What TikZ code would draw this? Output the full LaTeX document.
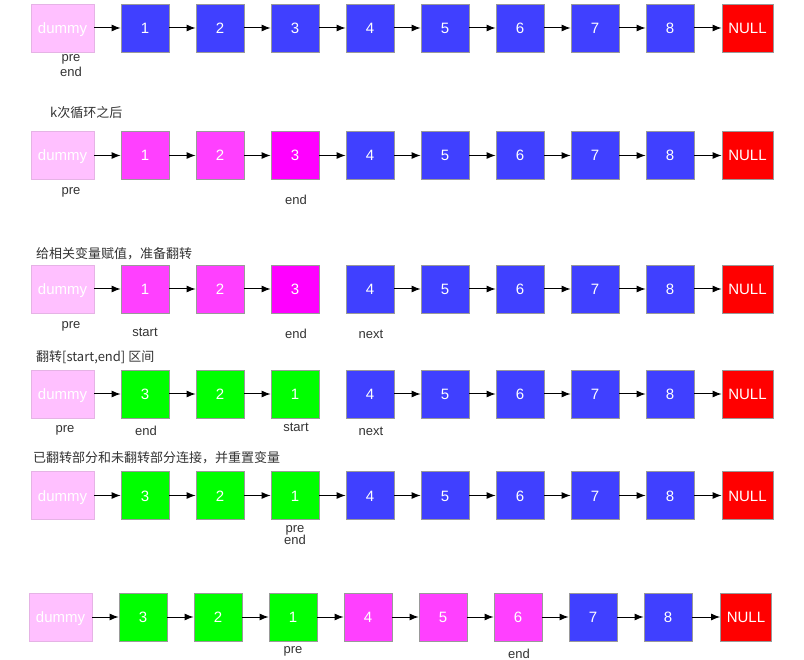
\documentclass[tikz,border=0pt]{standalone}
\usepackage{fontspec}
\setmainfont{Liberation Sans}
\newfontfamily\cjk{Noto Sans CJK SC}
\definecolor{listaAzul}{HTML}{4040FF}
\definecolor{listaRosa}{HTML}{FF40FF}
\definecolor{listaMagenta}{HTML}{FF00FF}
\definecolor{listaVerde}{HTML}{00FF00}
\definecolor{listaRojo}{HTML}{FF0000}
\definecolor{listaDummy}{HTML}{FFC0FF}
\definecolor{listaBorde}{HTML}{999999}
\definecolor{listaTexto}{HTML}{333333}
\usetikzlibrary{arrows.meta}
\tikzset{
	nodo/.style={
		draw=listaBorde,
		line width=0.8pt,
		minimum width=48pt,
		minimum height=48pt,
		inner sep=0pt,
		text height=11pt,
		text depth=0pt,
		text=white,
		font=\fontsize{15}{15}\selectfont
	},
	nodoAzul/.style={nodo, fill=listaAzul},
	nodoRosa/.style={nodo, fill=listaRosa},
	nodoMagenta/.style={nodo, fill=listaMagenta},
	nodoVerde/.style={nodo, fill=listaVerde},
	nodoNulo/.style={nodo, fill=listaRojo, minimum width=51pt},
	nodoDummy/.style={nodo, fill=listaDummy, minimum width=63pt, draw=listaDummy!80!gray},
	flecha/.style={
		-{Latex[length=9pt,width=7pt]},
		line width=1pt,
		black
	},
	etiqueta/.style={
		inner sep=0pt,
		text=listaTexto,
		font=\fontsize{13}{13}\selectfont
	},
	titulo/.style={
		anchor=west,
		inner sep=0pt,
		text=listaTexto,
		font=\cjk\fontsize{13}{13}\selectfont
	}
}

\begin{document}
\begin{tikzpicture}[x=1pt, y=-1pt]
	\useasboundingbox[fill=white] (0,0) rectangle (804,660);

	% fila 1: lista original
	\node[nodoDummy] (f1d) at (62.5,28) {dummy};
	\foreach \p in {1,...,8}{\node[nodoAzul] (f1p\p) at ({145+75*(\p-1)},28) {\p};}
	\node[nodoNulo] (f1n) at (747.5,28) {NULL};
	\draw[flecha] (f1d) -- (f1p1);
	\foreach \p in {1,...,7}{\pgfmathtruncatemacro\q{\p+1}\draw[flecha] (f1p\p) -- (f1p\q);}
	\draw[flecha] (f1p8) -- (f1n);
	\node[etiqueta] (f1pre) at (71,59) {pre};
	\node[etiqueta] (f1end) at (71,72) {end};

	% fila 2: k pasos
	\node[titulo] (t2) at (50,113) {k次循环之后};
	\node[nodoDummy] (f2d) at (62.5,155.5) {dummy};
	\foreach \p/\s in {1/nodoRosa,2/nodoRosa,3/nodoMagenta,4/nodoAzul,5/nodoAzul,6/nodoAzul,7/nodoAzul,8/nodoAzul}{
		\node[\s] (f2p\p) at ({145+75*(\p-1)},155.5) {\p};
	}
	\node[nodoNulo] (f2n) at (747.5,155.5) {NULL};
	\draw[flecha] (f2d) -- (f2p1);
	\foreach \p in {1,...,7}{\pgfmathtruncatemacro\q{\p+1}\draw[flecha] (f2p\p) -- (f2p\q);}
	\draw[flecha] (f2p8) -- (f2n);
	\node[etiqueta] (f2pre) at (71,192) {pre};
	\node[etiqueta] (f2end) at (296,200) {end};

	% fila 3: variables
	\node[titulo] (t3) at (36,254) {给相关变量赋值，准备翻转};
	\node[nodoDummy] (f3d) at (62.5,289) {dummy};
	\foreach \p/\s in {1/nodoRosa,2/nodoRosa,3/nodoMagenta,4/nodoAzul,5/nodoAzul,6/nodoAzul,7/nodoAzul,8/nodoAzul}{
		\node[\s] (f3p\p) at ({145+75*(\p-1)},289) {\p};
	}
	\node[nodoNulo] (f3n) at (747.5,289) {NULL};
	\draw[flecha] (f3d) -- (f3p1);
	\foreach \p in {1,2,4,5,6,7}{\pgfmathtruncatemacro\q{\p+1}\draw[flecha] (f3p\p) -- (f3p\q);}
	\draw[flecha] (f3p8) -- (f3n);
	\node[etiqueta] (f3pre) at (71,326) {pre};
	\node[etiqueta] (f3start) at (145,332) {start};
	\node[etiqueta] (f3end) at (296,334) {end};
	\node[etiqueta] (f3next) at (371,334) {next};

	% fila 4: tramo invertido
	\node[titulo] (t4) at (36,357) {翻转[start,end] 区间};
	\node[nodoDummy] (f4d) at (62.5,394) {dummy};
	\foreach \p/\t/\s in {1/3/nodoVerde,2/2/nodoVerde,3/1/nodoVerde,4/4/nodoAzul,5/5/nodoAzul,6/6/nodoAzul,7/7/nodoAzul,8/8/nodoAzul}{
		\node[\s] (f4p\p) at ({145+75*(\p-1)},394) {\t};
	}
	\node[nodoNulo] (f4n) at (747.5,394) {NULL};
	\draw[flecha] (f4d) -- (f4p1);
	\foreach \p in {1,2,4,5,6,7}{\pgfmathtruncatemacro\q{\p+1}\draw[flecha] (f4p\p) -- (f4p\q);}
	\draw[flecha] (f4p8) -- (f4n);
	\node[etiqueta] (f4pre) at (65,430) {pre};
	\node[etiqueta] (f4end) at (146,431) {end};
	\node[etiqueta] (f4start) at (296,427) {start};
	\node[etiqueta] (f4next) at (371,431) {next};

	% fila 5: reconexion
	\node[titulo] (t5) at (33,458) {已翻转部分和未翻转部分连接，并重置变量};
	\node[nodoDummy] (f5d) at (62.5,495.5) {dummy};
	\foreach \p/\t/\s in {1/3/nodoVerde,2/2/nodoVerde,3/1/nodoVerde,4/4/nodoAzul,5/5/nodoAzul,6/6/nodoAzul,7/7/nodoAzul,8/8/nodoAzul}{
		\node[\s] (f5p\p) at ({145+75*(\p-1)},495.5) {\t};
	}
	\node[nodoNulo] (f5n) at (747.5,495.5) {NULL};
	\draw[flecha] (f5d) -- (f5p1);
	\foreach \p in {1,...,7}{\pgfmathtruncatemacro\q{\p+1}\draw[flecha] (f5p\p) -- (f5p\q);}
	\draw[flecha] (f5p8) -- (f5n);
	\node[etiqueta] (f5pre) at (295,530) {pre};
	\node[etiqueta] (f5end) at (295,540) {end};

	% fila 6: siguiente grupo
	\node[nodoDummy] (f6d) at (60.5,617) {dummy};
	\foreach \p/\t/\s in {1/3/nodoVerde,2/2/nodoVerde,3/1/nodoVerde,4/4/nodoRosa,5/5/nodoRosa,6/6/nodoRosa,7/7/nodoAzul,8/8/nodoAzul}{
		\node[\s] (f6p\p) at ({143+75*(\p-1)},617) {\t};
	}
	\node[nodoNulo] (f6n) at (746,617) {NULL};
	\draw[flecha] (f6d) -- (f6p1);
	\foreach \p in {1,...,7}{\pgfmathtruncatemacro\q{\p+1}\draw[flecha] (f6p\p) -- (f6p\q);}
	\draw[flecha] (f6p8) -- (f6n);
	\node[etiqueta] (f6pre) at (293,651) {pre};
	\node[etiqueta] (f6end) at (519,654) {end};
\end{tikzpicture}
\end{document}
